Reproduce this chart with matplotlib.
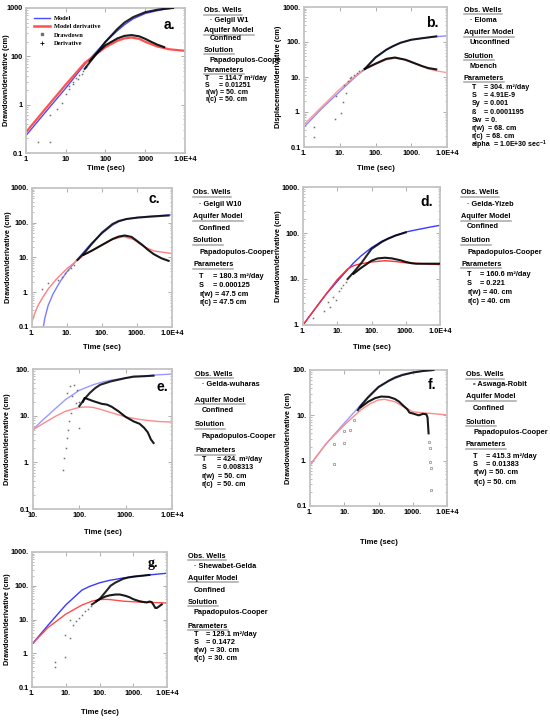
import matplotlib
matplotlib.use("Agg")
import matplotlib.pyplot as plt
from matplotlib.lines import Line2D
from matplotlib.ticker import NullFormatter, LogLocator

plt.rcParams['font.family'] = ['Liberation Sans', 'DejaVu Sans']
plt.rcParams['font.weight'] = 'bold'
plt.rcParams['mathtext.fontset'] = 'custom'
plt.rcParams['mathtext.rm'] = 'Liberation Sans:bold'
plt.rcParams['mathtext.it'] = 'Liberation Sans:bold'
plt.rcParams['mathtext.bf'] = 'Liberation Sans:bold'

# ---------------- data ----------------
# panel a (Gelgil W1)  -- y axis is drawn 0.1..100 but labelled as in the original
a_model_t = [1, 3, 10, 30, 100, 200, 300, 500, 1000, 2000, 3000, 5000]
a_model = [0.23, 0.68, 2.2, 6.8, 20, 34, 45, 60, 77, 88, 94, 100]
a_deriv_t = [1, 3, 10, 30, 100, 200, 300, 450, 700, 1000, 2000, 4000, 10000]
a_deriv = [0.27, 0.8, 2.6, 7.3, 15.5, 21, 23.5, 24.5, 23, 20, 16, 14, 13]
a_dd_t = [30, 40, 60, 100, 200, 300, 500, 1000, 2000, 3000, 5000]
a_dd = [5.5, 7.5, 11.5, 20, 37, 50, 65, 82, 92, 96, 100]
a_der_t = [40, 60, 100, 200, 300, 450, 700, 1000, 1500, 2000, 3000]
a_der = [8, 11.5, 17, 23.5, 26.5, 27.5, 26, 23, 19.5, 17.5, 15.5]
a_pts_t = [2, 4, 4, 6, 8, 10, 12, 15, 20, 25, 12, 15, 18, 22, 27, 33]
a_pts = [0.17, 0.17, 0.62, 0.8, 1.1, 1.7, 2.1, 2.7, 3.4, 4.4, 2.4, 3.0, 3.5, 4.2, 5.0, 6.0]

# panel b (Eloma)
b_model_t = [1, 3, 10, 30, 50, 100, 200, 300, 500, 1000, 2000, 3000, 5000, 10000]
b_model = [0.37, 1.2, 3.85, 11, 16.5, 37, 60, 75, 95, 116, 128, 135, 142, 150]
b_deriv_t = [1, 3, 10, 30, 50, 100, 200, 350, 600, 1000, 2000, 3000, 5000, 10000]
b_deriv = [0.44, 1.35, 4.5, 11.5, 16.5, 23, 31, 34.5, 32, 26, 20.5, 17, 15, 13.3]
b_dd_t = [50, 100, 200, 300, 500, 1000, 2000, 3000, 5000]
b_dd = [17, 36, 60, 75, 95, 116, 128, 135, 145]
b_der_t = [50, 100, 200, 350, 700, 1000, 2000, 3000, 5000]
b_der = [17, 24, 33, 36, 31, 27, 20.5, 18, 16.5]
b_pts_t = [1.9, 1.9, 7.2, 7.7, 11, 12.4, 13, 15, 17, 19, 21, 25, 30, 35, 42]
b_pts = [0.19, 0.37, 0.63, 2.8, 0.93, 1.87, 5.9, 3.6, 7.7, 9.1, 10, 11.5, 13, 14.5, 16]

# panel c (Gelgil W10)
c_model_t = [2.1, 2.35, 2.9, 4, 6.3, 10, 20, 30, 50, 100, 200, 300, 500, 1000, 2000, 5000, 10000]
c_model = [0.1, 0.19, 0.42, 0.9, 2.0, 3.9, 9, 14.5, 26, 49, 85, 107, 128, 142, 151, 162, 170]
c_deriv_t = [1, 1.2, 1.5, 2, 3, 5, 10, 30, 100, 200, 400, 800, 1500, 3000, 10000]
c_deriv = [0.14, 0.25, 0.42, 0.7, 1.3, 2.4, 4.8, 11.7, 22.7, 33, 40, 33, 21, 15.5, 13]
c_dd_t = [20, 30, 50, 100, 200, 300, 500, 1000, 2000, 4000, 8000]
c_dd = [8.5, 13, 24, 52, 92, 112, 128, 140, 148, 155, 162]
c_der_t = [30, 50, 100, 200, 300, 450, 700, 1000, 1500, 2000, 3000, 5000, 8000]
c_der = [12, 15.5, 23, 34, 40, 43, 39, 30, 22, 17, 12.5, 9.5, 8]
c_pts_t = [1.9, 2.9, 5.6, 7, 8.8, 11, 13, 16]
c_pts = [1.2, 1.8, 2.3, 2.8, 3.5, 4.3, 5.1, 6.0]

# panel d (Gelda-Yizeb)
d_model_t = [1, 2, 3, 5, 10, 20, 30, 50, 100, 200, 300, 500, 1000, 2000, 3000, 5000, 10000]
d_model = [1.0, 2.0, 3.0, 4.9, 8.9, 16, 22.4, 32, 48, 66, 75, 88, 105, 117, 124, 134, 147]
d_deriv_t = [1, 2, 3, 5, 10, 20, 30, 50, 100, 250, 500, 1000, 3000, 10000]
d_deriv = [1.0, 2.0, 3.0, 5.0, 9.7, 16.5, 19.5, 21.5, 23.5, 25, 24, 22.5, 21.5, 20.6]
d_dd_t = [20, 30, 50, 100, 200, 300, 500, 1000]
d_dd = [10, 14, 22, 45, 64, 75, 88, 103]
d_der_t = [30, 50, 100, 150, 250, 400, 700, 1000, 1500, 2000, 3000, 5000, 10000]
d_der = [13, 17.5, 25, 28, 29, 28, 25.5, 23.5, 22, 21.5, 21.5, 21.5, 21.5]
d_pts_t = [2, 4.1, 5.4, 6, 7.5, 9, 11, 13, 15, 18]
d_pts = [1.45, 2.0, 3.2, 2.5, 4.0, 3.5, 5.5, 6.3, 7.5, 8.5]

# panel e (Gelda-wuharas)
e_model_t = [10, 15, 20, 30, 50, 100, 200, 300, 500, 1000, 2000, 3000, 5000, 10000]
e_model = [5.0, 7.5, 9.7, 14, 22, 35, 46, 52, 58, 64, 69, 72, 75, 78]
e_deriv_t = [10, 20, 30, 50, 100, 150, 200, 300, 500, 1000, 2000, 3000, 5000, 10000]
e_deriv = [5.0, 7.6, 9.6, 12.4, 15.1, 15.4, 15, 13.5, 11.5, 9.4, 8.3, 7.9, 7.5, 7.3]
e_dd_t = [100, 130, 170, 220, 283, 470, 1000, 1500, 2500, 4000]
e_dd = [16, 23, 31, 39, 46, 54, 64, 69, 70, 72]
e_der_t = [120, 130, 200, 300, 400, 500, 700, 1000, 1500, 2000, 2500, 3000, 3500, 4000]
e_der = [20, 24, 20.5, 18, 17.2, 15.5, 12.4, 9.4, 7.5, 6.7, 5.5, 4.4, 3.1, 2.6]
e_pts_t = [44, 47, 51, 54, 57, 61, 66, 54, 64, 78, 69, 90, 96, 86, 98]
e_pts = [0.7, 1.24, 2.0, 3.3, 5.0, 7.6, 11.4, 30, 43, 46, 26, 35, 5.4, 18.7, 20]

# panel f (Aswaga-Robit)
f_model_t = [1, 3, 10, 30, 50, 100, 200, 300, 500, 1000, 2000, 3000, 4500]
f_model = [0.8, 2.4, 6.7, 16.9, 26, 43, 57, 65, 76, 87, 95, 97, 99]
f_deriv_t = [1, 3, 10, 30, 60, 100, 150, 300, 500, 1000, 2000, 3000, 10000]
f_deriv = [0.8, 2.4, 6.1, 13.1, 18.5, 21.8, 22.5, 20, 16, 12, 11.3, 11.1, 10.2]
f_dd_t = [25, 30, 50, 100, 200, 300, 500, 1000, 2000, 3000, 4000]
f_dd = [13, 16, 25, 42, 58, 68, 78, 88, 95, 98, 100]
f_der_t = [30, 50, 80, 120, 200, 300, 400, 500, 700, 800, 1000, 1500, 2000, 2500, 2700, 2800, 2900]
f_der = [15, 20, 24, 26, 25.5, 23, 20, 17, 13.5, 11.5, 11, 10, 10.8, 10.5, 9, 6, 4.0]
f_pts_t = [5, 5, 10, 10, 15, 19, 3050, 3120, 3270, 3480, 3370]
f_pts = [0.84, 2.3, 2.4, 4.6, 4.7, 7.8, 2.6, 1.87, 0.95, 0.68, 0.23]

# panel g (Shewabet-Gelda)
g_model_t = [1, 3, 10, 30, 50, 100, 200, 300, 500, 1000, 2000, 3000, 5000, 10000]
g_model = [1.85, 6.8, 27, 74, 95, 122, 145, 155, 170, 186, 200, 209, 220, 235]
g_deriv_t = [1, 3, 10, 30, 60, 100, 150, 200, 500, 1000, 3000, 10000]
g_deriv = [1.85, 5.8, 14.4, 26.7, 35, 39, 39.5, 39, 35, 33.5, 32, 31]
g_dd_t = [60, 80, 100, 150, 213, 300, 500, 700, 1000, 2000, 3000]
g_dd = [28, 34, 40, 65, 100, 125, 160, 175, 186, 200, 209]
g_der_t = [80, 100, 150, 200, 300, 400, 600, 800, 1000, 1500, 2000, 2500, 3000, 3500, 4000, 4500, 5000, 6000, 7000]
g_der = [35, 40, 48, 52, 55, 55, 50, 45, 40, 35, 33, 32, 34, 33, 27, 22, 22, 25, 28]
g_pts_t = [4.9, 4.9, 9.8, 9.8, 13.8, 13.8, 16.5, 20, 24, 30, 37, 45, 55]
g_pts = [0.55, 0.39, 0.78, 3.4, 2.9, 9.5, 6.8, 9, 11, 14, 17.5, 21, 25]

# text blocks
a_info = ["Obs. Wells", "· Gelgil W1", "Aquifer Model", "Confined", "Solution", "Papadopulos-Coope", "Parameters"]
a_par = [("T", "= 114.7 m²/day"), ("S", "= 0.01251"), ("r(w)", "= 50. cm"), ("r(c)", "= 50. cm")]
b_info = ["Obs. Wells", "· Eloma", "Aquifer Model", "Unconfined", "Solution", "Moench", "Parameters"]
b_par = [("T", "= 304. m²/day"), ("S", "= 4.91E-9"), ("Sy", "= 0.001"), ("ß", "= 0.0001195"),
         ("Sw", "= 0."), ("r(w)", "= 68. cm"), ("r(c)", "= 68. cm"), ("alpha", "= 1.0E+30 sec$^{-1}$")]
c_info = ["Obs. Wells", "· Gelgil W10", "Aquifer Model", "Confined", "Solution", "Papadopulos-Cooper", "Parameters"]
c_par = [("T", "= 180.3 m²/day"), ("S", "= 0.000125"), ("r(w)", "= 47.5 cm"), ("r(c)", "= 47.5 cm")]
d_info = ["Obs. Wells", "· Gelda-Yizeb", "Aquifer Model", "Confined", "Solution", "Papadopulos-Cooper", "Parameters"]
d_par = [("T", "= 160.6 m²/day"), ("S", "= 0.221"), ("r(w)", "= 40. cm"), ("r(c)", "= 40. cm")]
e_info = ["Obs. Wells", "· Gelda-wuharas", "Aquifer Model", "Confined", "Solution", "Papadopulos-Cooper", "Parameters"]
e_par = [("T", "= 424. m²/day"), ("S", "= 0.008313"), ("r(w)", "= 50. cm"), ("r(c)", "= 50. cm")]
f_info = ["Obs. Wells", "▫ Aswaga-Robit", "Aquifer Model", "Confined", "Solution", "Papadopulos-Cooper", "Parameters"]
f_par = [("T", "= 415.3 m²/day"), ("S", "= 0.01383"), ("r(w)", "= 50. cm"), ("r(c)", "= 50. cm")]
g_info = ["Obs. Wells", "· Shewabet-Gelda", "Aquifer Model", "Confined", "Solution", "Papadopulos-Cooper", "Parameters"]
g_par = [("T", "= 129.1 m²/day"), ("S", "= 0.1472"), ("r(w)", "= 30. cm"), ("r(c)", "= 30. cm")]

x4 = ["1.", "10.", "100.", "1000.", "1.0E+4"]

W, H = 550, 720
fig = plt.figure(figsize=(W / 100, H / 100), dpi=100)
renderer = fig.canvas.get_renderer()
underlined = []


def make_ax(l, r, t, b):
    return fig.add_axes([l / W, 1 - b / H, (r - l) / W, (b - t) / H])


def style_ax(ax, box, xlim, ylim, xlabels, ylabels, ylabel, ylab_x, xlab_y):
    l, r, t, b = box
    ax.set_xscale('log')
    ax.set_yscale('log')
    ax.set_xlim(xlim)
    ax.set_ylim(ylim)
    xt = [xlim[0] * 10 ** i for i in range(len(xlabels))]
    yt = [ylim[0] * 10 ** i for i in range(len(ylabels))]
    ax.set_xticks(xt, xlabels, fontsize=5.3, fontweight='bold')
    ax.set_yticks(yt, ylabels, fontsize=5.3, fontweight='bold')
    ax.xaxis.set_minor_locator(LogLocator(base=10, subs=range(2, 10)))
    ax.yaxis.set_minor_locator(LogLocator(base=10, subs=range(2, 10)))
    ax.xaxis.set_minor_formatter(NullFormatter())
    ax.yaxis.set_minor_formatter(NullFormatter())
    ax.tick_params(which='both', direction='in', top=True, right=True, color='#a0a0a0', pad=2.5)
    ax.tick_params(which='major', length=3, width=0.6)
    ax.tick_params(which='minor', length=1.6, width=0.5)
    for s in ax.spines.values():
        s.set_color('#c4c4c4')
        s.set_linewidth(1.3)
    ax.set_ylabel(ylabel, fontsize=5.3, fontweight='bold', va='center')
    ax.yaxis.set_label_coords((ylab_x - l) / (r - l), 0.5)
    ax.set_xlabel("Time (sec)", fontsize=5.5, fontweight='bold', va='center')
    ax.xaxis.set_label_coords(0.5, (b - xlab_y) / (b - t))


def draw_curves(ax, mt, m, dt, d, ddt, dd, dert, der, pt, p, blue, red, red_lw=1.0, open_marker=False):
    ax.plot(mt, m, color=blue, lw=1.0, zorder=2)
    ax.plot(dt, d, color=red, lw=red_lw, zorder=2)
    if open_marker:
        ax.plot(pt, p, ls='none', marker='s', ms=2.0, mfc='none', mec='#888888', mew=0.5, zorder=3)
    else:
        ax.plot(pt, p, ls='none', marker='s', ms=1.1, color='#707070', mew=0, zorder=3)
    ax.plot(ddt, dd, color='black', lw=1.5, alpha=0.85, zorder=3)
    ax.plot(dert, der, color='black', lw=1.5, alpha=0.9, zorder=3)


def info_block(x_head, x_val, x_par, x_eq, ys, lines, params, psize=5.3):
    # ys: one y per header/value line, then one per parameter
    for i, s in enumerate(lines):
        head = i % 2 == 0
        txt = fig.text((x_head if head else x_val) / W, 1 - ys[i] / H, s,
                       fontsize=5.3, fontweight='bold', va='center', ha='left')
        if head:
            underlined.append(txt)
    for j, (k, v) in enumerate(params):
        y = ys[len(lines) + j]
        lab = fig.text(x_par / W, 1 - y / H, k, fontsize=psize, fontweight='bold', va='center')
        right = lab.get_window_extent(renderer).x1
        xe = max(x_eq, right + 2.5)
        fig.text(xe / W, 1 - y / H, v, fontsize=psize, fontweight='bold', va='center')


def letter(x, y, s, serif=False):
    fam = ['Liberation Serif'] if serif else ['Liberation Sans']
    fig.text(x / W, 1 - y / H, s, fontsize=10, fontweight='bold', ha='center', va='center', family=fam)


# ---- panel a ----
box = (26, 185, 8, 153)
ax = make_ax(*box)
style_ax(ax, box, (1, 1e4), (0.1, 100), ["1", "10", "100", "1000", "1.0E+4"],
         ["0.1", "1", "100", "1000"], "Drawdown/derivative (cm)", 7, 168)
draw_curves(ax, a_model_t, a_model, a_deriv_t, a_deriv, a_dd_t, a_dd, a_der_t, a_der,
            a_pts_t, a_pts, '#4a4aff', '#ff5050', red_lw=1.6)
handles = [Line2D([], [], color='#4a4aff', lw=1.0),
           Line2D([], [], color='#ff5050', lw=1.8),
           Line2D([], [], ls='none', marker='s', ms=1.8, color='#707070'),
           Line2D([], [], ls='none', marker='+', ms=3, color='black', mew=0.6)]
ax.legend(handles, ["Model", "Model derivative", "Drawdown", "Derivative"], loc='upper left',
          bbox_to_anchor=(0.02, 0.98), frameon=False, handlelength=2.6, handletextpad=0.6,
          labelspacing=0.45, borderpad=0.2,
          prop={'family': 'Liberation Serif', 'weight': 'bold', 'size': 4.6})
letter(169, 25, "a.")
info_block(204, 210, 205, 219, [11, 20, 31, 39, 50, 60, 70, 78, 85.5, 92.5, 99.5], a_info, a_par, psize=5.0)

# ---- panel b ----
box = (304, 447, 7, 147)
ax = make_ax(*box)
style_ax(ax, box, (1, 1e4), (0.1, 1000), x4, ["0.1", "1.", "10.", "100.", "1000."],
         "Displacement/derivative (cm)", 279, 168)
draw_curves(ax, b_model_t, b_model, b_deriv_t, b_deriv, b_dd_t, b_dd, b_der_t, b_der,
            b_pts_t, b_pts, '#8c8cff', '#ff9a9a')
letter(432, 23, "b.")
info_block(464, 470, 472, 484, [10, 21, 33, 43, 56, 66, 78, 87.5, 95.5, 103.5, 112, 120, 128, 136, 144.5],
           b_info, b_par, psize=5.1)

# ---- panel c ----
box = (32, 172, 188, 327)
ax = make_ax(*box)
style_ax(ax, box, (1, 1e4), (0.1, 1000), x4, ["0.1", "1.", "10.", "100.", "1000."],
         "Drawdown/derivative (cm)", 8, 348)
draw_curves(ax, c_model_t, c_model, c_deriv_t, c_deriv, c_dd_t, c_dd, c_der_t, c_der,
            c_pts_t, c_pts, '#7c7cff', '#ff8080')
letter(154, 199, "c.")
info_block(193, 199, 199, 213, [193, 204, 217, 228, 241, 252, 265, 277, 286, 294, 302], c_info, c_par)

# ---- panel d ----
box = (303, 440, 187, 325)
ax = make_ax(*box)
style_ax(ax, box, (1, 1e4), (1, 1000), x4, ["1.", "10.", "100.", "1000."],
         "Drawdown/derivative (cm)", 279, 348)
draw_curves(ax, d_model_t, d_model, d_deriv_t, d_deriv, d_dd_t, d_dd, d_der_t, d_der,
            d_pts_t, d_pts, '#3a3aff', '#ff3030')
letter(427, 202, "d.")
info_block(461, 467, 467, 480, [193, 204, 217, 227, 241, 252, 264, 275, 284, 293, 301], d_info, d_par)

# ---- panel e ----
box = (33, 172, 369, 509)
ax = make_ax(*box)
style_ax(ax, box, (10, 1e4), (0.1, 100), ["10.", "100.", "1000.", "1.0E+4"],
         ["0.1", "1.", "10.", "100."], "Drawdown/derivative (cm)", 8, 532)
draw_curves(ax, e_model_t, e_model, e_deriv_t, e_deriv, e_dd_t, e_dd, e_der_t, e_der,
            e_pts_t, e_pts, '#9a9aff', '#ff8a8a')
letter(162, 387, "e.")
info_block(195, 202, 202, 217, [374, 385, 400, 411, 425, 437, 451, 459.5, 467.5, 476.5, 485], e_info, e_par,
           psize=5.1)

# ---- panel f ----
box = (310, 447, 370, 506)
ax = make_ax(*box)
style_ax(ax, box, (1, 1e4), (0.1, 100), x4, ["0.1", "1.", "10.", "100."],
         "Drawdown/derivative (cm)", 289, 542)
draw_curves(ax, f_model_t, f_model, f_deriv_t, f_deriv, f_dd_t, f_dd, f_der_t, f_der,
            f_pts_t, f_pts, '#9a9aff', '#ff8a8a', open_marker=True)
letter(432, 385, "f.")
info_block(466, 473, 473, 486, [375, 385, 397, 408, 422, 432, 445, 456, 464, 473, 482], f_info, f_par)

# ---- panel g ----
box = (32, 167, 552, 687)
ax = make_ax(*box)
style_ax(ax, box, (1, 1e4), (0.1, 1000), x4, ["0.1", "1.", "10.", "100.", "1000."],
         "Drawdown/derivative (cm)", 8, 713)
draw_curves(ax, g_model_t, g_model, g_deriv_t, g_deriv, g_dd_t, g_dd, g_der_t, g_der,
            g_pts_t, g_pts, '#3a3aff', '#ff4a4a')
letter(153, 563, "g.", serif=True)
info_block(188, 194, 194, 206, [556, 566, 578, 590, 602, 613, 626, 635, 643, 651, 659], g_info, g_par)

# underline the block headers
for txt in underlined:
    bb = txt.get_window_extent(renderer)
    y = (bb.y0 - 0.5) / H
    fig.add_artist(Line2D([bb.x0 / W, bb.x1 / W], [y, y], transform=fig.transFigure,
                          color='#a8a8a8', lw=1.1))

fig.savefig("out.png", dpi=100)
